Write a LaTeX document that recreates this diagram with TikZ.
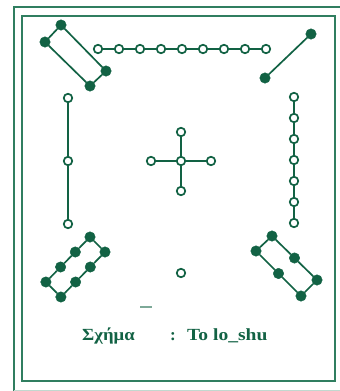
\documentclass[tikz,border=0pt]{standalone}
\usepackage{fontspec}
\setmainfont{Liberation Serif}
\definecolor{lsgreen}{RGB}{18,98,68}
\definecolor{lsframe}{RGB}{48,126,96}
\begin{document}
\begin{tikzpicture}
[
	x=1pt,y=-1pt,
	yang/.style={circle,draw=lsgreen,fill=white,line width=1.7pt,inner sep=0pt,minimum size=8.5pt},
	yin/.style={circle,draw=lsgreen,fill=lsgreen,inner sep=0pt,minimum size=10.5pt},
	link/.style={lsgreen,line width=1.7pt},
	caption/.style={anchor=base west,inner sep=0pt,text=lsgreen,font=\bfseries\fontsize{17}{20}\selectfont}
]
	\useasboundingbox (0,0) rectangle (340,391);

	% frames
	\draw[lsframe,line width=1.8pt] (341,7) -- (14,7) -- (14,392);
	\draw[lsframe!30,line width=1pt] (14,390) -- (341,390);
	\draw[lsframe,line width=2pt] (22,16) rectangle (335,381);

	% 1 : top row
	\foreach \i in {0,...,8}
		\node[yang] (top\i) at ({98+21*\i},49) {};
	\foreach \i [count=\j] in {0,...,7}
		\draw[link] (top\i) -- (top\j);

	% 4 : top left
	\node[yin] (tl1) at (61,25) {};
	\node[yin] (tl2) at (45,42) {};
	\node[yin] (tl3) at (90,86) {};
	\node[yin] (tl4) at (106,71) {};
	\draw[link] (tl1) -- (tl2) -- (tl3) -- (tl4) -- (tl1);

	% 2 : top right
	\node[yin] (tr1) at (311,34) {};
	\node[yin] (tr2) at (265,78) {};
	\draw[link] (tr1) -- (tr2);

	% 3 : left
	\foreach \i in {0,1,2}
		\node[yang] (lf\i) at (68,{98+63*\i}) {};
	\draw[link] (lf0) -- (lf1) -- (lf2);

	% 7 : right
	\foreach \i in {0,...,6}
		\node[yang] (rt\i) at (294,{97+21*\i}) {};
	\foreach \i [count=\j] in {0,...,5}
		\draw[link] (rt\i) -- (rt\j);

	% 5 : centre
	\node[yang] (mid) at (181,161) {};
	\node[yang] (midN) at (181,132) {};
	\node[yang] (midS) at (181,191) {};
	\node[yang] (midW) at (151,161) {};
	\node[yang] (midE) at (211,161) {};
	\draw[link] (midN) -- (mid) -- (midS);
	\draw[link] (midW) -- (mid) -- (midE);

	% 1 : bottom
	\node[yang] (bot) at (181,273) {};

	% 8 : bottom left
	\foreach \i in {0,...,3} {
		\node[yin] (blA\i) at ({90-14.7*\i},{237+15*\i}) {};
		\node[yin] (blB\i) at ({105-14.7*\i},{252+15*\i}) {};
	}
	\draw[link] (blA0) -- (blA1) -- (blA2) -- (blA3) -- (blB3) -- (blB2) -- (blB1) -- (blB0) -- (blA0);

	% 6 : bottom right
	\foreach \i in {0,1,2} {
		\node[yin] (brA\i) at ({272+22.5*\i},{236+22*\i}) {};
		\node[yin] (brB\i) at ({256+22.5*\i},{251+22.5*\i}) {};
	}
	\draw[link] (brA0) -- (brA1) -- (brA2) -- (brB2) -- (brB1) -- (brB0) -- (brA0);

	\draw[lsgreen!55,line width=1.5pt] (140,307) -- (152,307);

	% caption
	\node[caption] (capA) at (82,340) {\scalebox{1.1}[1]{Σχήμα}};
	\node[caption] (capB) at (170,340) {:};
	\node[caption] (capC) at (187,340) {\scalebox{1.15}[1]{Το lo\_shu}};

\end{tikzpicture}
\end{document}
